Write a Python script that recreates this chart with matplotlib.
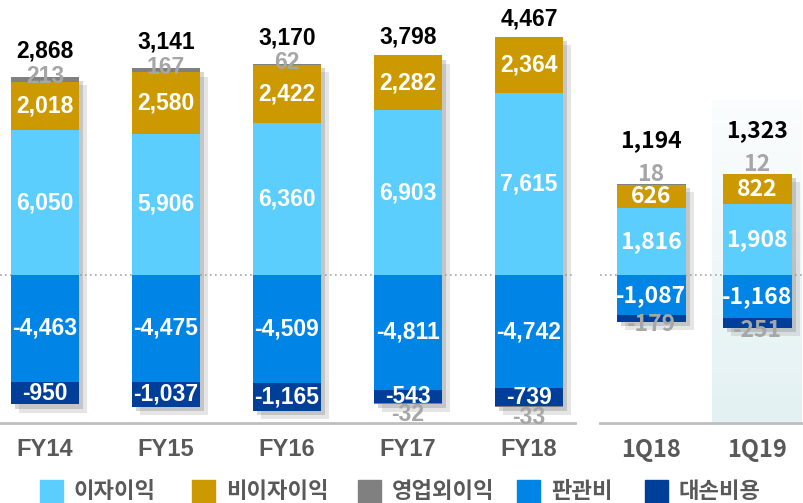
import numpy as np
import matplotlib
matplotlib.use("Agg")
import matplotlib.pyplot as plt
import matplotlib.patheffects as pe
from matplotlib.patches import Rectangle

# ================================================
# Data (억원)
# ================================================
cats_fy = ["FY14", "FY15", "FY16", "FY17", "FY18"]
interest_fy = [6050, 5906, 6360, 6903, 7615]
nonint_fy = [2018, 2580, 2422, 2282, 2364]
nonop_fy = [213, 167, 62, -32, -33]
sga_fy = [-4463, -4475, -4509, -4811, -4742]
prov_fy = [-950, -1037, -1165, -543, -739]
net_fy = [2868, 3141, 3170, 3798, 4467]

cats_q = ["1Q18", "1Q19"]
interest_q = [1816, 1908]
nonint_q = [626, 822]
nonop_q = [18, 12]
sga_q = [-1087, -1168]
prov_q = [-179, -251]
net_q = [1194, 1323]

legend_labels = ["이자이익", "비이자이익", "영업외이익", "판관비", "대손비용"]
colors = ["#5BCEFD", "#CC9900", "#808080", "#0085E6", "#003F99"]

GRAY_TXT = "#A6A6A6"
TICK_TXT = "#595959"
W, H = 804, 503

fig = plt.figure(figsize=(W / 100, H / 100), dpi=100)
# two panels, same zero line but different scale
ax1 = fig.add_axes([0 / W, (H - 423) / H, 575 / W, 423 / H])
ax2 = fig.add_axes([600 / W, (H - 423) / H, 204 / W, 423 / H])


def draw_group(ax, cats, interest, nonint, nonop, sga, prov, net, width,
               font, quarterly=False):
    x = np.arange(len(cats))
    # soft-ish drop shadow: two offset layers
    shadow = [pe.SimplePatchShadow(offset=(6, -6), shadow_rgbFace="#9a9a9a", alpha=0.25),
              pe.SimplePatchShadow(offset=(3, -3), shadow_rgbFace="#8a8a8a", alpha=0.35),
              pe.Normal()]
    lbl = dict(fontsize=16.5, fontweight="bold", family=font, ha="center", va="center")
    for i in range(len(cats)):
        top = interest[i] + nonint[i] + max(nonop[i], 0)
        bottom = sga[i] + prov[i] + min(nonop[i], 0)
        # background bar carrying the drop shadow
        ax.bar(x[i], top - bottom, width, bottom=bottom, color="white",
               path_effects=shadow, zorder=2)
        ax.bar(x[i], interest[i], width, color=colors[0], zorder=3)
        ax.bar(x[i], nonint[i], width, bottom=interest[i], color=colors[1], zorder=3)
        if nonop[i] > 0:
            ax.bar(x[i], nonop[i], width, bottom=interest[i] + nonint[i],
                   color=colors[2], zorder=3)
        ax.bar(x[i], sga[i], width, color=colors[3], zorder=3)
        ax.bar(x[i], prov[i], width, bottom=sga[i], color=colors[4], zorder=3)
        if nonop[i] < 0:
            ax.bar(x[i], nonop[i], width, bottom=sga[i] + prov[i],
                   color=colors[2], zorder=3)

        # labels inside segments
        ax.text(x[i], interest[i] / 2, f"{interest[i]:,}", color="white", zorder=5, **lbl)
        ax.text(x[i], interest[i] + nonint[i] / 2, f"{nonint[i]:,}", color="white",
                zorder=5, **lbl)
        ax.text(x[i], sga[i] / 2, f"{sga[i]:,}", color="white", zorder=5, **lbl)
        if quarterly:
            ax.annotate(f"{prov[i]:,}", (x[i], sga[i] + prov[i]), xytext=(0, -3),
                        textcoords="offset pixels", color=GRAY_TXT, zorder=5, **lbl)
        else:
            ax.text(x[i], sga[i] + prov[i] / 2, f"{prov[i]:,}", color="white",
                    zorder=5, **lbl)

        # non-operating income and net profit
        gray_off = 9 if quarterly else 1
        if nonop[i] > 0:
            ax.annotate(f"{nonop[i]:,}", (x[i], top), xytext=(0, gray_off),
                        textcoords="offset pixels", color=GRAY_TXT, zorder=5, **lbl)
            net_off = 43 if quarterly else 26
        else:
            ax.annotate(f"{nonop[i]:,}", (x[i], bottom), xytext=(0, -11),
                        textcoords="offset pixels", color=GRAY_TXT, zorder=5, **lbl)
            net_off = 18
        ax.annotate(f"{net[i]:,}", (x[i], top), xytext=(0, net_off),
                    textcoords="offset pixels", color="black", zorder=5, **lbl)

    ax.set_xticks(x, cats)
    ax.tick_params(axis="x", length=0, pad=11, labelsize=17, labelcolor=TICK_TXT)
    for t in ax.get_xticklabels():
        t.set_fontweight("bold")
        t.set_family(font)
    ax.set_yticks([])
    for s in ["top", "left", "right"]:
        ax.spines[s].set_visible(False)
    ax.spines["bottom"].set_color("#BFBFBF")
    ax.spines["bottom"].set_linewidth(2)
    ax.axhline(0, color="#A6A6A6", ls=(0, (1, 2)), lw=1.2, zorder=1)


# FY panel: ~0.0239 px per unit, zero line at 275 px from top
ax1.set_ylim(-148 / 0.0239, 275 / 0.0239)
ax1.set_xlim(-45 / 121, (575 - 45) / 121)
draw_group(ax1, cats_fy, interest_fy, nonint_fy, nonop_fy, sga_fy, prov_fy, net_fy,
           68 / 121, "Liberation Sans")

# quarterly panel: larger scale
ax2.set_ylim(-148 / 0.037, 275 / 0.037)
ax2.set_xlim(-51 / 106, (804 - 651) / 106)

# light highlight behind 1Q19
grad = np.zeros((100, 1, 4))
grad[:, 0, 0] = 0xE3 / 255
grad[:, 0, 1] = 0xF1 / 255
grad[:, 0, 2] = 0xF3 / 255
grad[:, 0, 3] = np.linspace(0.15, 1.0, 100)
ax2.imshow(grad, extent=[(712 - 651) / 106, (802 - 651) / 106, -148 / 0.037, 175 / 0.037],
           origin="upper", aspect="auto", zorder=0)
draw_group(ax2, cats_q, interest_q, nonint_q, nonop_q, sga_q, prov_q, net_q,
           69 / 106, "Noto Sans CJK KR", quarterly=True)
ax2.set_ylim(-148 / 0.037, 275 / 0.037)
ax2.set_xlim(-51 / 106, (804 - 651) / 106)

# legend along the bottom
sq_x = [40, 192, 358, 517, 645]
for lab, col, sx in zip(legend_labels, colors, sq_x):
    fig.add_artist(Rectangle((sx / W, 0), 23 / W, 23 / H, color=col,
                             transform=fig.transFigure))
    fig.text((sx + 34) / W, 11 / H, lab, fontsize=16, fontweight="bold",
             color=TICK_TXT, family="Noto Sans CJK KR", va="center", ha="left")

fig.savefig("out.png", dpi=100)
